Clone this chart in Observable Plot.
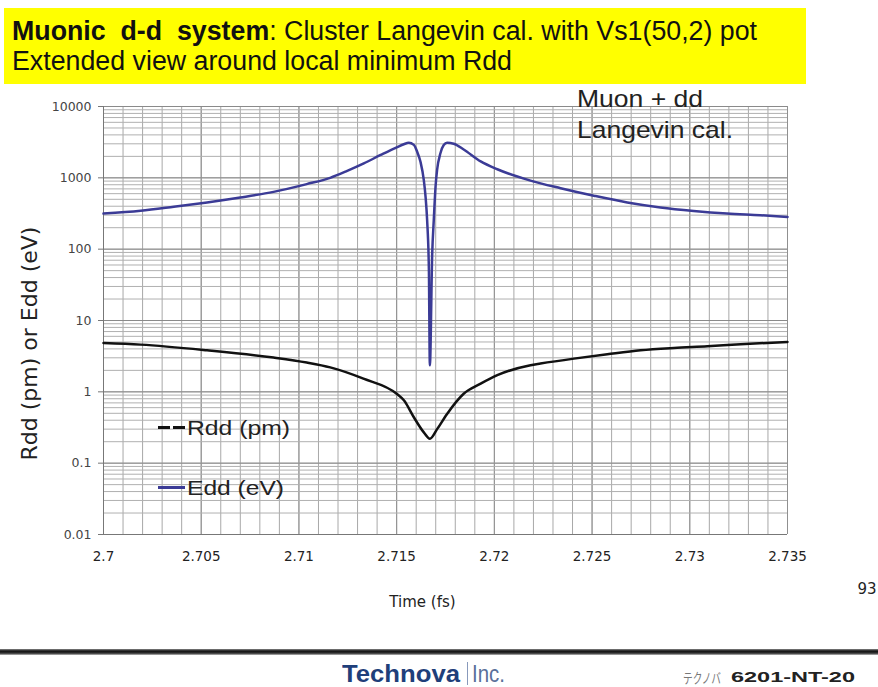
<!DOCTYPE html>
<html>
<head>
<meta charset="utf-8">
<script src="https://cdn.jsdelivr.net/npm/d3@7"></script>
<script src="https://cdn.jsdelivr.net/npm/@observablehq/plot@0.6"></script>
<style>
  html, body { margin: 0; padding: 0; background: #fff; }
  body { width: 878px; height: 687px; position: relative; overflow: hidden; font-family: "Liberation Sans", Arial, sans-serif; }
  #chart { position: absolute; left: 0; top: 0; }
  .abs { position: absolute; white-space: nowrap; line-height: 1; transform-origin: 0 0; }
  #titlebox { left: 4px; top: 8px; width: 802px; height: 76px; background: #ffff00; }
  .ttl { font-size: 27px; color: #111; }
  .note { font-size: 24px; color: #222; }
  .leg { font-size: 20px; color: #222; }
  #foot { left: 0; top: 649px; width: 878px; height: 6px; background: linear-gradient(#888, #111 35%, #333 70%, #bbb); }
</style>
</head>
<body>
<div id="chart"></div>
<div id="titlebox" class="abs"></div>
<div class="abs ttl fit" data-w="745" style="left:12px; top:18px;"><b>Muonic&nbsp; d-d&nbsp; system</b>: Cluster Langevin cal. with Vs1(50,2) pot</div>
<div class="abs ttl fit" data-w="500" style="left:12px; top:48px;">Extended view around local minimum Rdd</div>
<div class="abs note fit" data-w="126" style="left:577px; top:87px;">Muon + dd</div>
<div class="abs note fit" data-w="156" style="left:577px; top:118px;">Langevin cal.</div>
<div class="abs" style="left:158px; top:426px; width:12px; height:2.5px; background:#111;"></div>
<div class="abs" style="left:173px; top:426px; width:12px; height:2.5px; background:#111;"></div>
<div class="abs leg fit" data-w="103" style="left:187px; top:418px;">Rdd (pm)</div>
<div class="abs" style="left:158px; top:486px; width:27px; height:2.5px; background:#3b3b96;"></div>
<div class="abs leg fit" data-w="97" style="left:187px; top:478px;">Edd (eV)</div>
<div id="foot" class="abs"></div>
<div class="abs fit" data-w="118" style="left:342px; top:663px; font-size:23px; font-weight:bold; color:#1f3f7a;">Technova</div>
<div class="abs" style="left:467px; top:662px; width:1px; height:23px; background:#8899bb;"></div>
<div class="abs fit" data-w="33" style="left:472px; top:663px; font-size:23px; color:#5a6f9a;">Inc.</div>
<div class="abs fit" data-w="38" style="left:683px; top:670px; font-size:14px; color:#777; font-family:'Noto Sans CJK JP';">テクノバ</div>
<div class="abs fit" data-w="124" style="left:731px; top:669px; font-size:15px; color:#222; font-weight:bold;">6201-NT-20</div>
<script>
// Time (fs)
const eddTime = [2.7000, 2.7019, 2.7036, 2.7053, 2.7070, 2.7087, 2.7104, 2.7116, 2.71247, 2.71332, 2.71418, 2.71503, 2.71537, 2.71562,
  2.71588, 2.71605, 2.71622, 2.71639, 2.71648, 2.71656, 2.71665, 2.7167,
  2.71682, 2.7169, 2.71699, 2.71707, 2.71724, 2.71741, 2.71758, 2.71792, 2.71843, 2.7193, 2.72015, 2.72185,
  2.72339, 2.72509, 2.7268, 2.7285, 2.7302, 2.7319, 2.7336, 2.735];
// Edd (eV)
const eddValue = [315, 345, 393, 452, 530, 636, 817, 1000, 1250, 1590, 2090, 2700, 2960, 3100,
  2900, 2320, 1680, 930, 542, 255, 51, 2.35,
  87, 255, 750, 1290, 2210, 2880, 3100, 3000, 2500, 1700, 1320, 915,
  716, 562, 452, 385, 344, 316, 299, 283];
// Time (fs)
const rddTime = [2.7000, 2.7019, 2.7053, 2.7087, 2.7104, 2.7116, 2.7133, 2.7150, 2.71537, 2.71588, 2.71639, 2.7167,
  2.71707, 2.71758, 2.71843, 2.7193, 2.72015, 2.72185, 2.72236, 2.72407, 2.72578, 2.72748, 2.72919, 2.7309, 2.7326, 2.735];
// Rdd (pm)
const rddValue = [4.84, 4.59, 3.82, 3.02, 2.57, 2.2, 1.53, 0.94, 0.76, 0.44, 0.27, 0.22,
  0.30, 0.49, 0.94, 1.30, 1.71, 2.36, 2.49, 2.92, 3.36, 3.82, 4.12, 4.35, 4.65, 5.0];

const xTicks = [2.7, 2.705, 2.71, 2.715, 2.72, 2.725, 2.73, 2.735];
const xTickLabels = ["2.7", "2.705", "2.71", "2.715", "2.72", "2.725", "2.73", "2.735"];
const yTicks = [0.01, 0.1, 1, 10, 100, 1000, 10000];
const yTickLabels = ["0.01", "0.1", "1", "10", "100", "1000", "10000"];

const xGrid = d3.range(0, 36).map(i => +(2.7 + i * 0.001).toFixed(3));
const yGrid = [];
for (let e = -2; e < 4; e++) for (let m = 1; m <= 9; m++) yGrid.push(m * Math.pow(10, e));
yGrid.push(10000);

const edd = eddTime.map((t, i) => ({t, v: eddValue[i]}));
const rdd = rddTime.map((t, i) => ({t, v: rddValue[i]}));
const wide = "DejaVu Sans, Verdana, sans-serif";

const chart = Plot.plot({
  width: 878,
  height: 620,
  marginLeft: 103,
  marginRight: 91,
  marginTop: 106,
  marginBottom: 86,
  style: {fontFamily: "Liberation Sans, Arial, sans-serif", background: "transparent"},
  x: {domain: [2.7, 2.735]},
  y: {type: "log", domain: [0.01, 10000]},
  marks: [
    Plot.ruleX(xGrid, {stroke: "#a8a8a8", strokeWidth: 1}),
    Plot.ruleX(xTicks, {stroke: "#909090", strokeWidth: 1}),
    Plot.ruleY(yGrid, {stroke: "#b0b0b0", strokeWidth: 1}),
    Plot.ruleY(yTicks, {stroke: "#8a8a8a", strokeWidth: 1}),
    Plot.ruleX([2.7], {stroke: "#777"}),
    Plot.ruleY([0.01], {stroke: "#777"}),
    Plot.axisY({ticks: yTicks, tickFormat: d => yTickLabels[yTicks.indexOf(d)], tickSize: 5, tickPadding: 7, fontSize: 12.5, fontFamily: wide, color: "#444", label: null, stroke: "#777"}),
    Plot.axisX({ticks: xTicks, tickFormat: d => xTickLabels[xTicks.indexOf(d)], tickSize: 0, tickPadding: 17, fontSize: 13.5, fontFamily: wide, color: "#222", label: null}),
    Plot.text(["Rdd (pm) or Edd (eV)"], {frameAnchor: "left", textAnchor: "middle", dx: -74, dy: 23, rotate: -90, fontSize: 22, fontFamily: wide, fill: "#222"}),
    Plot.text(["Time (fs)"], {frameAnchor: "bottom", dy: 72, dx: -23, fontSize: 15, fontFamily: wide, fill: "#222"}),
    Plot.text(["93"], {frameAnchor: "bottom-right", dx: 89, dy: 59, fontSize: 15, fontFamily: wide, fill: "#222"}),
    Plot.line(rdd, {x: "t", y: "v", stroke: "#111", strokeWidth: 2.5, curve: "monotone-x"}),
    Plot.line(edd, {x: "t", y: "v", stroke: "#3b3b96", strokeWidth: 2.5, curve: "monotone-x"})
  ]
});
document.getElementById("chart").appendChild(chart);

// stretch overlay texts horizontally to match the reference widths
document.querySelectorAll(".fit").forEach(el => {
  const w = el.getBoundingClientRect().width;
  const target = +el.dataset.w;
  if (w > 0) el.style.transform = `scaleX(${target / w})`;
});
</script>
</body>
</html>
